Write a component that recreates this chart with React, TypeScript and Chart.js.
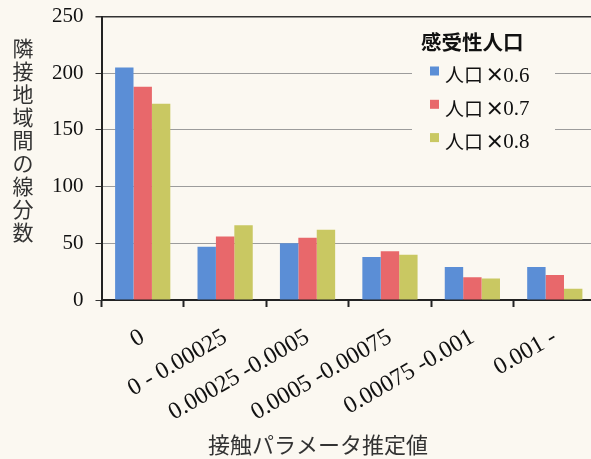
import { useEffect, useRef } from "react";
import { Chart, registerables } from "chart.js";

Chart.register(...registerables);

// Contact-parameter bins and the number of inter-region segments per bin
const categories = ["0", "0 - 0.00025", "0.00025 -0.0005", "0.0005 -0.00075", "0.00075 -0.001", "0.001 -"];
const pop06 = [205, 47, 50, 38, 29, 29];
const pop07 = [188, 56, 55, 43, 20, 22];
const pop08 = [173, 66, 62, 40, 19, 10];
const seriesLabels = ["人口 ×0.6", "人口 ×0.7", "人口 ×0.8"];
const seriesColors = ["#5b8ed6", "#e8686b", "#c9c862"];
const legendTitle = "感受性人口";
const yTitle = "隣接地域間の線分数";
const xTitle = "接触パラメータ推定値";
const yMin = 0;
const yMax = 250;
const yStep = 50;

const PAGE_BG = "#fbf8f1";
const INK = "#222";
const CJK = '"Noto Sans CJK JP"';
const SERIF = '"Liberation Serif"';

// Draws the stacked vertical y title, the x title and the boxed legend
const annotations = {
  id: "annotations",
  afterDraw(chart: Chart) {
    const ctx = chart.ctx;
    ctx.save();

    // vertical y-axis title, one character per line
    ctx.fillStyle = "#333";
    ctx.font = `21px ${CJK}`;
    ctx.textAlign = "center";
    ctx.textBaseline = "middle";
    Array.from(yTitle).forEach((ch, i) => {
      ctx.fillText(ch, 23, 48 + i * 23);
    });

    // x-axis title
    ctx.font = `22px ${CJK}`;
    ctx.fillText(xTitle, 318, 445);

    // legend panel
    ctx.fillStyle = PAGE_BG;
    ctx.fillRect(412, 24, 143, 132);
    ctx.fillStyle = "#111";
    ctx.textAlign = "left";
    ctx.font = `bold 20.5px ${CJK}`;
    ctx.fillText(legendTitle, 421, 42);
    chart.data.datasets.forEach((ds, i) => {
      const y = 75 + i * 33.3;
      ctx.fillStyle = ds.backgroundColor as string;
      ctx.fillRect(430, y - 8.5, 9, 9);
      ctx.fillStyle = "#111";
      const label = String(ds.label);
      const cut = label.indexOf("×");
      const head = cut >= 0 ? label.slice(0, cut) : label;
      const mult = cut >= 0 ? "×" : "";
      const tail = cut >= 0 ? label.slice(cut + 1) : "";
      let x = 445;
      ctx.font = `19px ${CJK}`;
      ctx.fillText(head, x, y);
      x += ctx.measureText(head).width;
      ctx.font = `bold 19px ${CJK}`;
      ctx.fillText(mult, x - 2, y);
      x += ctx.measureText(mult).width - 3;
      ctx.font = `21px ${SERIF}`;
      ctx.fillText(tail, x, y + 1);
    });
    ctx.restore();
  },
};

export default function App() {
  const ref = useRef<HTMLCanvasElement | null>(null);

  useEffect(() => {
    if (!ref.current) return;
    const chart = new Chart(ref.current, {
      type: "bar",
      data: {
        labels: categories,
        datasets: [pop06, pop07, pop08].map((values, i) => ({
          label: seriesLabels[i],
          data: values,
          backgroundColor: seriesColors[i],
          borderWidth: 0,
          categoryPercentage: 0.67,
          barPercentage: 1.0,
        })),
      },
      options: {
        responsive: false,
        animation: false,
        layout: { padding: { left: 0, top: 16.5, right: 0, bottom: 0 } },
        plugins: {
          legend: { display: false },
          tooltip: { enabled: false },
        },
        scales: {
          x: {
            afterFit: (s: any) => {
              s.height = 159;
            },
            grid: {
              drawOnChartArea: false,
              drawTicks: true,
              tickLength: 7,
              tickColor: INK,
              tickWidth: 2,
            },
            border: { color: INK, width: 2 },
            ticks: {
              autoSkip: false,
              minRotation: 30,
              maxRotation: 30,
              padding: 16,
              color: "#111",
              font: { family: SERIF, size: 24 },
            },
          },
          y: {
            min: yMin,
            max: yMax,
            afterFit: (s: any) => {
              s.width = 101.5;
              s.paddingTop = 0;
              s.paddingBottom = 0;
            },
            grid: {
              color: (c: any) => (c.tick && c.tick.value === yMax ? "#333" : "#9c9c9c"),
              lineWidth: (c: any) => (c.tick && c.tick.value === yMax ? 1.5 : 1),
              tickColor: "#333",
              tickLength: 6,
              drawTicks: true,
            },
            border: { color: INK, width: 2 },
            ticks: {
              stepSize: yStep,
              padding: 12,
              color: "#111",
              font: { family: SERIF, size: 21 },
            },
          },
        },
      },
      plugins: [annotations],
    });
    return () => chart.destroy();
  }, []);

  return (
    <div
      style={{
        position: "fixed",
        left: 0,
        top: 0,
        width: 591,
        height: 459,
        overflow: "hidden",
        background: PAGE_BG,
      }}
    >
      <canvas ref={ref} width={596} height={459} style={{ width: 596, height: 459, display: "block" }} />
    </div>
  );
}
